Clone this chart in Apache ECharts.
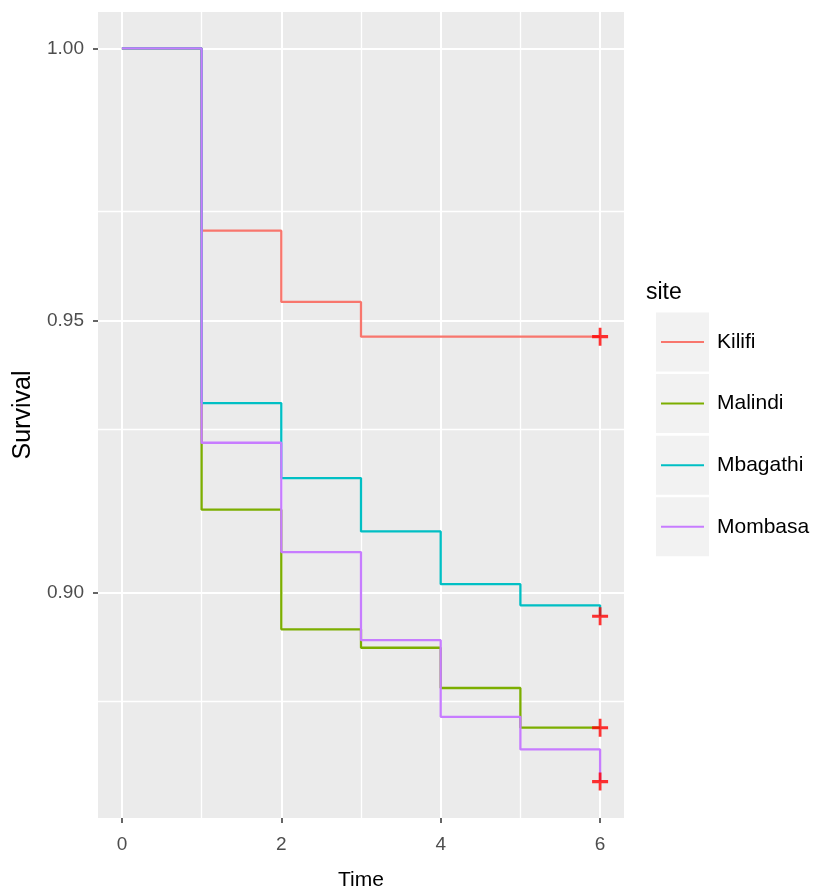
<!DOCTYPE html>
<html>
<head>
<meta charset="utf-8">
<script src="https://cdn.jsdelivr.net/npm/echarts@6/dist/echarts.min.js"></script>
<style>
html, body { margin: 0; padding: 0; background: #ffffff; }
#chart { width: 817px; height: 896px; }
</style>
</head>
<body>
<div id="chart"></div>
<script>
// Kaplan-Meier survival estimates by site
const sites = ['Kilifi', 'Malindi', 'Mbagathi', 'Mombasa'];
const times = [0, 1, 2, 3, 4, 5, 6];
const kilifi   = [1.0000, 0.9665, 0.9534, 0.9470, 0.9470, 0.9470, 0.9470];
const malindi  = [1.0000, 0.9152, 0.8932, 0.8898, 0.8824, 0.8751, 0.8751];
const mbagathi = [1.0000, 0.9348, 0.9210, 0.9112, 0.9015, 0.8976, 0.8956];
const mombasa  = [1.0000, 0.9275, 0.9074, 0.8912, 0.8771, 0.8711, 0.8652];
const censorTime = 6;

// axes
const xTicks = [0, 2, 4, 6];
const xMinor = [1, 3, 5];
const yTicks = [0.90, 0.95, 1.00];
const yMinor = [0.875, 0.925, 0.975];
const xRange = [-0.3, 6.3];
const yRange = [0.8585, 1.0067];

const colors = ['#F8766D', '#7CAE00', '#00BFC4', '#C77CFF'];
const curves = [kilifi, malindi, mbagathi, mombasa];

const FONT = '"Liberation Sans", Arial, sans-serif';

// legend geometry
const legendPad = 5;
const legendLeft = 656, legendTop = 321;
const legendTextPadTop = 8, legendLineH = 24;
const legendItemH = legendLineH + legendTextPadTop;
const legendStep = 61.6;
const keyBoxX = 656, keyBoxW = 53, keyBoxH = 59;
const firstKeyCenter = legendTop + legendPad + legendItemH / 2;

// filled "+" used for censoring marks
const plusPath = 'path://M8.25,0 L11.75,0 L11.75,8.25 L20,8.25 L20,11.75 L11.75,11.75 L11.75,20 L8.25,20 L8.25,11.75 L0,11.75 L0,8.25 L8.25,8.25 Z';

const gridLine = w => ({ color: '#ffffff', width: w, type: 'solid' });

const gridSeries = {
  type: 'line',
  name: '_grid',
  z: 1,
  data: [[0, 1]],
  showSymbol: false,
  symbol: 'none',
  lineStyle: { width: 0, opacity: 0 },
  silent: true,
  legendHoverLink: false,
  markLine: {
    z: 0,
    silent: true,
    symbol: ['none', 'none'],
    label: { show: false },
    emphasis: { disabled: true },
    animation: false,
    data: [
      ...yMinor.map(v => ({ yAxis: v, lineStyle: gridLine(1.3) })),
      ...xMinor.map(v => ({ xAxis: v, lineStyle: gridLine(1.3) })),
      ...yTicks.map(v => ({ yAxis: v, lineStyle: gridLine(2) })),
      ...xTicks.map(v => ({ xAxis: v, lineStyle: gridLine(2) }))
    ]
  }
};

const curveSeries = sites.map((s, i) => ({
  type: 'line',
  name: s,
  step: 'end',
  z: 3,
  data: times.map((t, k) => [t, curves[i][k]]),
  showSymbol: false,
  symbol: 'none',
  color: colors[i],
  lineStyle: { color: colors[i], width: 2.3 },
  animation: false
}));

const censorSeries = {
  type: 'scatter',
  name: '_censor',
  z: 4,
  symbol: plusPath,
  symbolSize: [16, 18],
  itemStyle: { color: '#FF0000' },
  data: curves.map(c => [censorTime, c[c.length - 1]]),
  animation: false,
  silent: true
};

const chart = echarts.init(document.getElementById('chart'), null, { renderer: 'canvas' });

chart.setOption({
  backgroundColor: '#ffffff',
  animation: false,
  textStyle: { fontFamily: FONT },
  title: [{
    text: 'site',
    left: 641,
    top: 276,
    textStyle: { fontFamily: FONT, fontSize: 23, fontWeight: 'normal', color: '#000000' }
  }],
  grid: {
    left: 98, top: 12, width: 526, height: 807,
    show: true, backgroundColor: '#EBEBEB', borderWidth: 0
  },
  legend: {
    data: sites,
    orient: 'vertical',
    left: legendLeft,
    top: legendTop,
    padding: legendPad,
    itemWidth: 43,
    itemHeight: 2,
    itemGap: legendStep - legendItemH,
    icon: 'rect',
    selectedMode: false,
    textStyle: {
      fontFamily: FONT, fontSize: 21, color: '#000000',
      lineHeight: legendLineH, padding: [legendTextPadTop, 0, 0, 8]
    }
  },
  xAxis: {
    type: 'value',
    min: xRange[0], max: xRange[1],
    name: 'Time',
    nameLocation: 'middle',
    nameGap: 52,
    nameTextStyle: { fontFamily: FONT, fontSize: 21, color: '#000000' },
    axisLine: { show: false, onZero: false },
    splitLine: { show: false },
    axisTick: { show: true, customValues: xTicks, length: 5, lineStyle: { color: '#333333', width: 1.5 } },
    axisLabel: {
      customValues: xTicks, margin: 17,
      fontFamily: FONT, fontSize: 19, color: '#4D4D4D',
      formatter: v => String(Math.round(v))
    }
  },
  yAxis: {
    type: 'value',
    min: yRange[0], max: yRange[1],
    name: 'Survival',
    nameLocation: 'middle',
    nameRotate: 90,
    nameGap: 62,
    nameTextStyle: { fontFamily: FONT, fontSize: 25, color: '#000000' },
    axisLine: { show: false, onZero: false },
    splitLine: { show: false },
    axisTick: { show: true, customValues: yTicks, length: 5, lineStyle: { color: '#333333', width: 1.5 } },
    axisLabel: {
      customValues: yTicks, margin: 14,
      fontFamily: FONT, fontSize: 19, color: '#4D4D4D',
      formatter: v => v.toFixed(2)
    }
  },
  graphic: sites.map((s, i) => ({
    type: 'rect',
    z: -1,
    silent: true,
    shape: {
      x: keyBoxX,
      y: firstKeyCenter + i * legendStep - keyBoxH / 2,
      width: keyBoxW,
      height: keyBoxH
    },
    style: { fill: '#F2F2F2' }
  })),
  series: [gridSeries, ...curveSeries, censorSeries]
});
</script>
</body>
</html>
